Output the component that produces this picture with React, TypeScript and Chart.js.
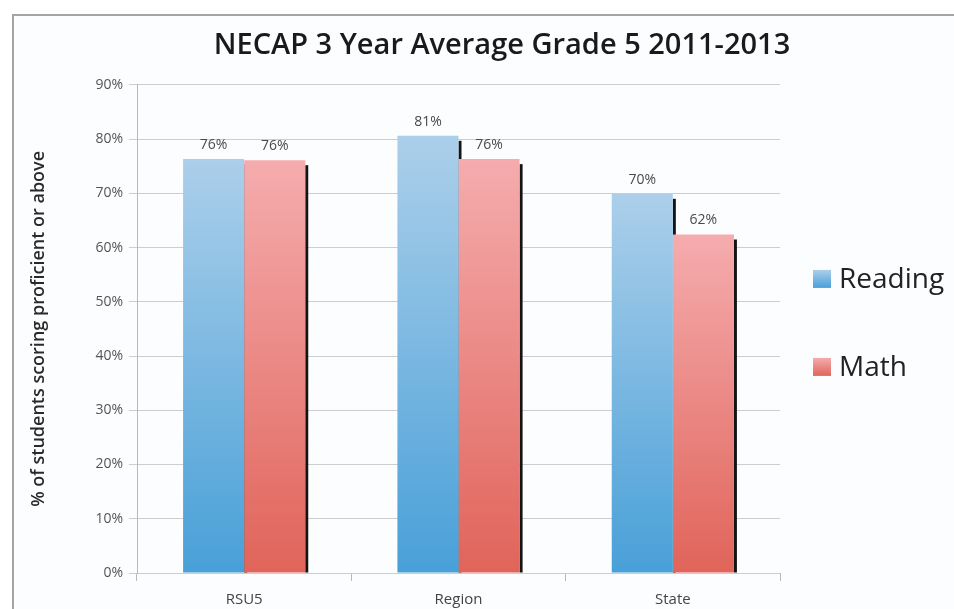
import React, { useEffect, useRef } from "react";
import { Chart, registerables } from "chart.js";

Chart.register(...registerables);

const categories = ["RSU5", "Region", "State"];
const readingValues = [76.3, 80.6, 69.9];
const mathValues = [76.1, 76.3, 62.4];
const seriesNames = ["Reading", "Math"];
const yTicks = [0, 10, 20, 30, 40, 50, 60, 70, 80, 90];

const palettes = [
  { top: "rgb(172,207,234)", bottom: "rgb(72,160,216)" },
  { top: "rgb(245,172,174)", bottom: "rgb(224,100,90)" },
];

function barGradient(idx: number) {
  return (ctx: any) => {
    const chart = ctx.chart;
    const p = palettes[idx];
    if (!chart.chartArea || ctx.type !== "data") return p.top;
    const ys = chart.scales.y;
    const top = ys.getPixelForValue(ctx.raw);
    const bottom = ys.getPixelForValue(0);
    const g = chart.ctx.createLinearGradient(0, top, 0, bottom);
    g.addColorStop(0, p.top);
    g.addColorStop(1, p.bottom);
    return g;
  };
}

const shadowPlugin = {
  id: "barShadow",
  beforeDatasetsDraw(chart: any) {
    const c = chart.ctx;
    c.save();
    c.fillStyle = "#141414";
    chart.data.datasets.forEach((_: any, i: number) => {
      const meta = chart.getDatasetMeta(i);
      meta.data.forEach((el: any) => {
        const x = el.x + el.width / 2;
        const y = el.y + 5;
        c.fillRect(x, y, 3, el.base - y);
      });
    });
    c.restore();
  },
};

const labelPlugin = {
  id: "valueLabels",
  afterDatasetsDraw(chart: any) {
    const c = chart.ctx;
    c.save();
    c.font = "14px 'Open Sans'";
    c.fillStyle = "#4a4a4a";
    c.textAlign = "center";
    c.textBaseline = "bottom";
    chart.data.datasets.forEach((ds: any, i: number) => {
      const meta = chart.getDatasetMeta(i);
      meta.data.forEach((el: any, j: number) => {
        c.fillText(Math.round(ds.data[j]) + "%", el.x, el.y - 7);
      });
    });
    c.restore();
  },
};

const legendPlugin = {
  id: "customLegend",
  afterDraw(chart: any) {
    const c = chart.ctx;
    const area = chart.chartArea;
    const mid = (area.top + area.bottom) / 2;
    const offsets = [-50, 38];
    c.save();
    chart.data.datasets.forEach((ds: any, i: number) => {
      const cy = mid + offsets[i];
      const x = area.right + 33;
      const s = 18;
      const g = c.createLinearGradient(0, cy - s / 2, 0, cy + s / 2);
      g.addColorStop(0, palettes[i].top);
      g.addColorStop(1, palettes[i].bottom);
      c.fillStyle = g;
      c.fillRect(x, cy - s / 2, s, s);
      c.fillStyle = "#222";
      c.font = "28px 'Open Sans'";
      c.textAlign = "left";
      c.textBaseline = "middle";
      c.fillText(ds.label, x + s + 8, cy + 1);
    });
    c.restore();
  },
};

export default function App() {
  const ref = useRef<HTMLCanvasElement>(null);
  useEffect(() => {
    if (!ref.current) return;
    const chart = new Chart(ref.current, {
      type: "bar",
      data: {
        labels: categories,
        datasets: [
          { label: seriesNames[0], data: readingValues, backgroundColor: barGradient(0) as any },
          { label: seriesNames[1], data: mathValues, backgroundColor: barGradient(1) as any },
        ],
      },
      plugins: [shadowPlugin, labelPlugin, legendPlugin],
      options: {
        animation: false,
        responsive: false,
        maintainAspectRatio: false,
        layout: { padding: { left: 12, right: -24, top: 0, bottom: 0 } },
        datasets: { bar: { categoryPercentage: 0.57, barPercentage: 1 } },
        plugins: {
          legend: { display: false },
          tooltip: { enabled: false },
          title: {
            display: true,
            text: "NECAP 3 Year Average Grade 5 2011-2013",
            color: "#1a1a1a",
            font: { family: "'Open Sans'", size: 29, weight: "600" as any },
            padding: { top: 12, bottom: 22 },
          },
        },
        scales: {
          x: {
            grid: { display: true, offset: true, drawOnChartArea: false, tickLength: 8, color: "#b8b8b8" },
            border: { display: false },
            afterFit: (s: any) => { s.height = s.height - 10; },
            ticks: { color: "#444", font: { family: "'Open Sans'", size: 15 }, padding: 10 },
          },
          y: {
            min: 0,
            max: 90,
            afterBuildTicks: (s: any) => { s.ticks = yTicks.map((v) => ({ value: v })); },
            afterFit: (s: any) => { s.width = 111; },
            grid: { color: "#cdcdcd", tickLength: 8 },
            border: { color: "#b8b8b8" },
            ticks: {
              color: "#555",
              font: { family: "'Open Sans'", size: 14 },
              padding: 6,
              callback: (v: any) => v + "%",
            },
            title: {
              display: true,
              text: "% of students scoring proficient or above",
              color: "#2a2a2a",
              font: { family: "'Open Sans'", size: 18, weight: "600" as any },
              padding: { top: 2, bottom: 4 },
            },
          },
          legendSpace: {
            type: "linear",
            position: "right",
            display: true,
            afterFit: (s: any) => { s.width = 198; },
            grid: { display: false },
            border: { display: false },
            ticks: { display: false },
          } as any,
        },
      },
    });
    return () => chart.destroy();
  }, []);
  return (
    <div
      style={{
        position: "absolute",
        left: 12,
        top: 14,
        width: 940,
        height: 593,
        borderTop: "2px solid #a5a5a5",
        borderLeft: "2px solid #a5a5a5",
        background: "#fcfdfe",
        overflow: "hidden",
      }}
    >
      <canvas ref={ref} width={940} height={593} style={{ display: "block" }} />
    </div>
  );
}
